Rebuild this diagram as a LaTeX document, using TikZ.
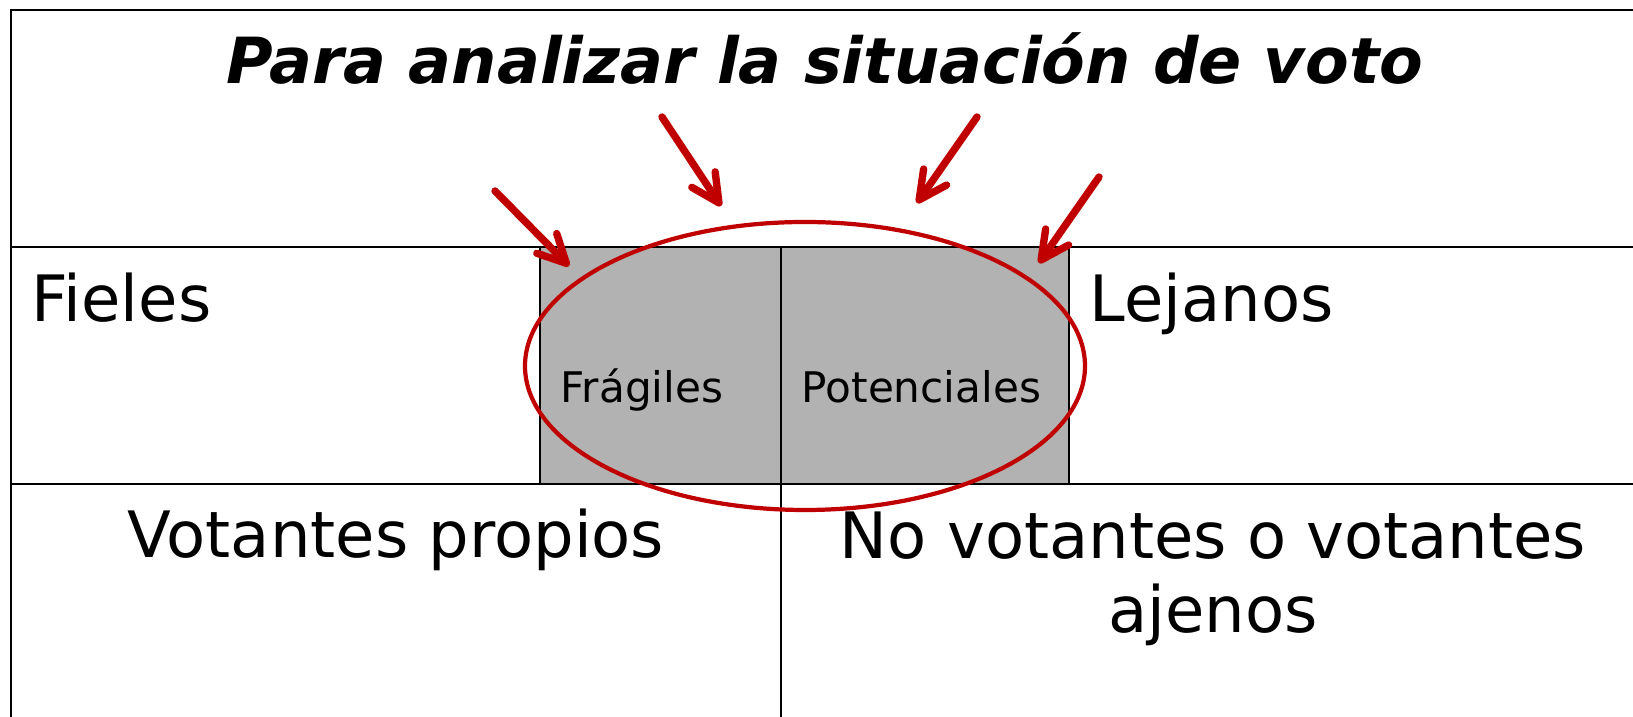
\documentclass[tikz,border=0pt]{standalone}
\usepackage{fontspec}
\setmainfont{DejaVu Sans}
\usepackage{xcolor}
\usetikzlibrary{arrows.meta,shapes.geometric,positioning}
\definecolor{rojo}{HTML}{C00000}
\definecolor{gris}{HTML}{B2B2B2}

\begin{document}
\begin{tikzpicture}[
        linea/.style={black, line width=0.65pt},
        grande/.style={inner sep=0pt, font=\fontsize{18.2}{21.3}\selectfont},
        chico/.style={inner sep=0pt, font=\fontsize{12}{14}\selectfont},
        flecha/.style={rojo, line width=2.1pt, line cap=round, line join=round,
            -{Straight Barb[length=2.8mm,width=2.8mm,round]}}
    ]
        \useasboundingbox (0,0) rectangle (16.33,-7.17);

        % Zona gris
        \fill[gris] (5.40,-2.47) rectangle (10.69,-4.84);
        \draw[black, line width=0.5pt] (5.40,-2.47) -- (5.40,-4.84);
        \draw[black, line width=0.5pt] (10.69,-2.47) -- (10.69,-4.84);

        % Tabla
        \draw[linea] (16.33,-0.10) -- (0.11,-0.10) -- (0.11,-7.17);
        \draw[linea] (0.11,-2.47) -- (16.33,-2.47);
        \draw[linea] (0.11,-4.84) -- (16.33,-4.84);
        \draw[linea] (7.81,-2.47) -- (7.81,-7.17);

        % Titulo
        \node[grande, anchor=base, font=\fontsize{18.1}{21.3}\selectfont\bfseries\itshape] (titulo) at (8.25,-0.84) {Para analizar la situación de voto};

        % Celdas
        \node[grande, anchor=base west] (fieles) at (0.31,-3.22) {Fieles};
        \node[grande, anchor=base west] (lejanos) at (10.89,-3.22) {Lejanos};
        \node[chico, anchor=base west] (fragiles) at (5.60,-4.03) {Frágiles};
        \node[chico, anchor=base west] (potenciales) at (8.01,-4.03) {Potenciales};
        \node[grande, anchor=base] (propios) at (3.96,-5.58) {Votantes propios};
        % base del ultimo renglon
        \node[grande, anchor=base, align=center] (ajenos) at (12.13,-6.33) {No votantes o votantes\\ajenos};

        % Elipse
        \node[draw=rojo, line width=1.2pt, ellipse, minimum width=5.60cm, minimum height=2.88cm, inner sep=0pt] (circulo) at (8.05,-3.66) {};

        % Flechas
        \coordinate (t1) at (4.95,-1.91);
        \coordinate (p1) at (5.69,-2.66);
        \coordinate (t2) at (6.62,-1.17);
        \coordinate (p2) at (7.21,-2.06);
        \coordinate (t3) at (9.77,-1.17);
        \coordinate (p3) at (9.17,-2.03);
        \coordinate (t4) at (10.99,-1.77);
        \coordinate (p4) at (10.39,-2.63);
        \foreach \i in {1,...,4}
            \draw[flecha] (t\i) -- (p\i);
    \end{tikzpicture}
\end{document}
